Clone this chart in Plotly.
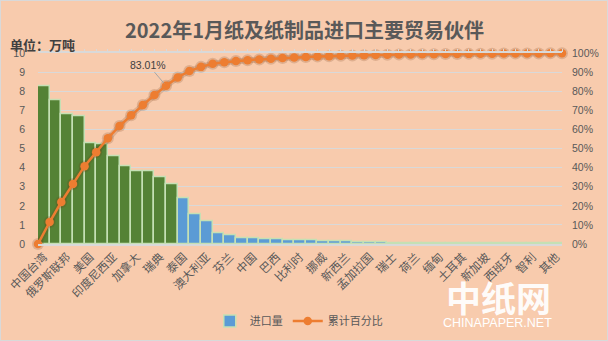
import numpy as np
import plotly.graph_objects as go

# Import volume by trading partner, 10k tonnes (sorted descending, 45 partners)
values = [8.25, 7.52, 6.78, 6.68, 5.26, 5.22, 4.60, 4.05, 3.79, 3.79, 3.50, 3.11,
          2.40, 1.56, 1.19, 0.56, 0.46, 0.30, 0.30, 0.25, 0.25, 0.19, 0.19, 0.19,
          0.14, 0.14, 0.13, 0.09, 0.09, 0.08, 0.06,
          0.05, 0.05, 0.05, 0.04, 0.04, 0.04, 0.04, 0.03, 0.03, 0.03, 0.03, 0.02,
          0.02, 0.015]
# Labels shown on every other category
tick_labels = ["中国台湾", "俄罗斯联邦", "美国", "印度尼西亚", "加拿大", "瑞典", "泰国",
               "澳大利亚", "芬兰", "中国", "巴西", "比利时", "挪威", "新西兰", "孟加拉国",
               "瑞士", "荷兰", "缅甸", "土耳其", "新加坡", "西班牙", "智利", "其他"]
n_major = 12          # leading partners drawn in green
callout_index = 11    # cumulative point that carries a value label

W, H = 608, 341
n = len(values)
idx = list(range(n))
cum_pct = [0.0] + (np.cumsum(values) / sum(values) * 100).tolist()
cum_x = list(range(n + 1))

GRID = "#d9d9d9"
TEXT = "#595959"
BG = "#f8cbad"
ORANGE = "#ed7d31"
CJK = "Noto Sans CJK SC"

x0, x1 = 38 / W, 562 / W
y0, y1 = (H - 244) / H, (H - 53.3) / H

fig = go.Figure()

fig.add_trace(go.Bar(
    x=idx[:n_major], y=values[:n_major],
    marker=dict(color="#548235", line=dict(color="#c5e0b4", width=1.5)),
    width=1.0, showlegend=False, hoverinfo="skip"))
fig.add_trace(go.Bar(
    x=idx[n_major:], y=values[n_major:], name="进口量",
    marker=dict(color="#5b9bd5", line=dict(color="#c5e0b4", width=1.5)),
    width=1.0))

# soft shadow under the cumulative line
fig.add_trace(go.Scatter(
    x=cum_x, y=cum_pct, xaxis="x2", yaxis="y2", mode="lines+markers",
    line=dict(color="rgba(110,50,10,0.18)", width=6),
    marker=dict(size=12, color="rgba(110,50,10,0.18)"),
    showlegend=False, hoverinfo="skip", cliponaxis=False))
fig.add_trace(go.Scatter(
    x=cum_x, y=cum_pct, xaxis="x2", yaxis="y2", mode="lines+markers", name="累计百分比",
    line=dict(color=ORANGE, width=2.5), marker=dict(size=8.5, color=ORANGE),
    cliponaxis=False))

fig.update_layout(
    template="none",
    width=W, height=H, margin=dict(l=0, r=0, t=0, b=0, autoexpand=False),
    paper_bgcolor=BG, plot_bgcolor=BG, barmode="overlay", bargap=0,
    font=dict(family=CJK, color=TEXT, size=11),
    xaxis=dict(domain=[x0, x1], range=[-0.5, n - 0.5], automargin=False,
               tickmode="array", tickvals=idx[::2], ticktext=tick_labels,
               tickangle=-45, tickfont=dict(size=11.5, color=TEXT),
               showgrid=False, showline=True, linecolor=GRID, linewidth=1.5,
               ticks="", zeroline=False),
    yaxis=dict(domain=[y0, y1], range=[0, 10], dtick=1, automargin=False,
               showgrid=True, gridcolor=GRID, gridwidth=1, zeroline=False,
               showline=False, ticks="",
               tickfont=dict(size=10.5, color=TEXT, family="Liberation Sans"),
               ticklabelstandoff=12),
    xaxis2=dict(overlaying="x", anchor="y2", side="top", range=[0, n], automargin=False,
                showline=True, linecolor=GRID, linewidth=1.5, ticks="outside",
                ticklen=3, tickcolor=GRID, dtick=1, showticklabels=False,
                showgrid=False, zeroline=False),
    yaxis2=dict(overlaying="y", anchor="x2", side="right", range=[0, 100], dtick=10,
                ticksuffix="%", showgrid=False, zeroline=False, automargin=False,
                showline=False, ticks="",
                tickfont=dict(size=10.5, color=TEXT, family="Liberation Sans"),
                ticklabelstandoff=9),
    legend=dict(orientation="h", x=0.345, y=1 - 321 / H, yanchor="middle",
                xanchor="left", font=dict(size=11, color=TEXT), bgcolor="rgba(0,0,0,0)",
                itemwidth=30, traceorder="normal"),
    showlegend=True,
)

# title and unit
fig.add_annotation(text="<b>2022年1月纸及纸制品进口主要贸易伙伴</b>", xref="paper", yref="paper",
                   x=0.5, y=1 - 29 / H, xanchor="center", yanchor="middle", showarrow=False,
                   font=dict(size=20, color=TEXT, family=CJK))
fig.add_annotation(text="<b>单位：万吨</b>", xref="paper", yref="paper",
                   x=8 / W, y=1 - 44.5 / H, xanchor="left", yanchor="middle", showarrow=False,
                   font=dict(size=13, color="#404040", family=CJK))

# value callout on the cumulative line
fig.add_annotation(text=f"{cum_pct[callout_index]:.2f}%",
                   xref="x2", yref="y2", x=cum_x[callout_index], y=cum_pct[callout_index],
                   ax=-18, ay=-21, showarrow=True, arrowhead=0, arrowwidth=1,
                   arrowcolor="#a6a6a6", standoff=3,
                   font=dict(size=10.5, color="#404040", family="Liberation Sans"))

# site mark
fig.add_annotation(text="<b>中纸网</b>", xref="paper", yref="paper",
                   x=498 / W, y=1 - 296 / H, xanchor="center", yanchor="middle",
                   showarrow=False,
                   font=dict(size=35, color="rgba(255,255,255,0.95)", family=CJK))
fig.add_annotation(text="CHINAPAPER.NET", xref="paper", yref="paper",
                   x=497 / W, y=1 - 323 / H, xanchor="center", yanchor="middle",
                   showarrow=False,
                   font=dict(size=12.5, color="white", family="Liberation Sans"))

fig.add_shape(type="rect", xref="paper", yref="paper", x0=0, y0=0, x1=1, y1=1,
              line=dict(color="#d9d9d9", width=2))

fig.write_html("out.html")
